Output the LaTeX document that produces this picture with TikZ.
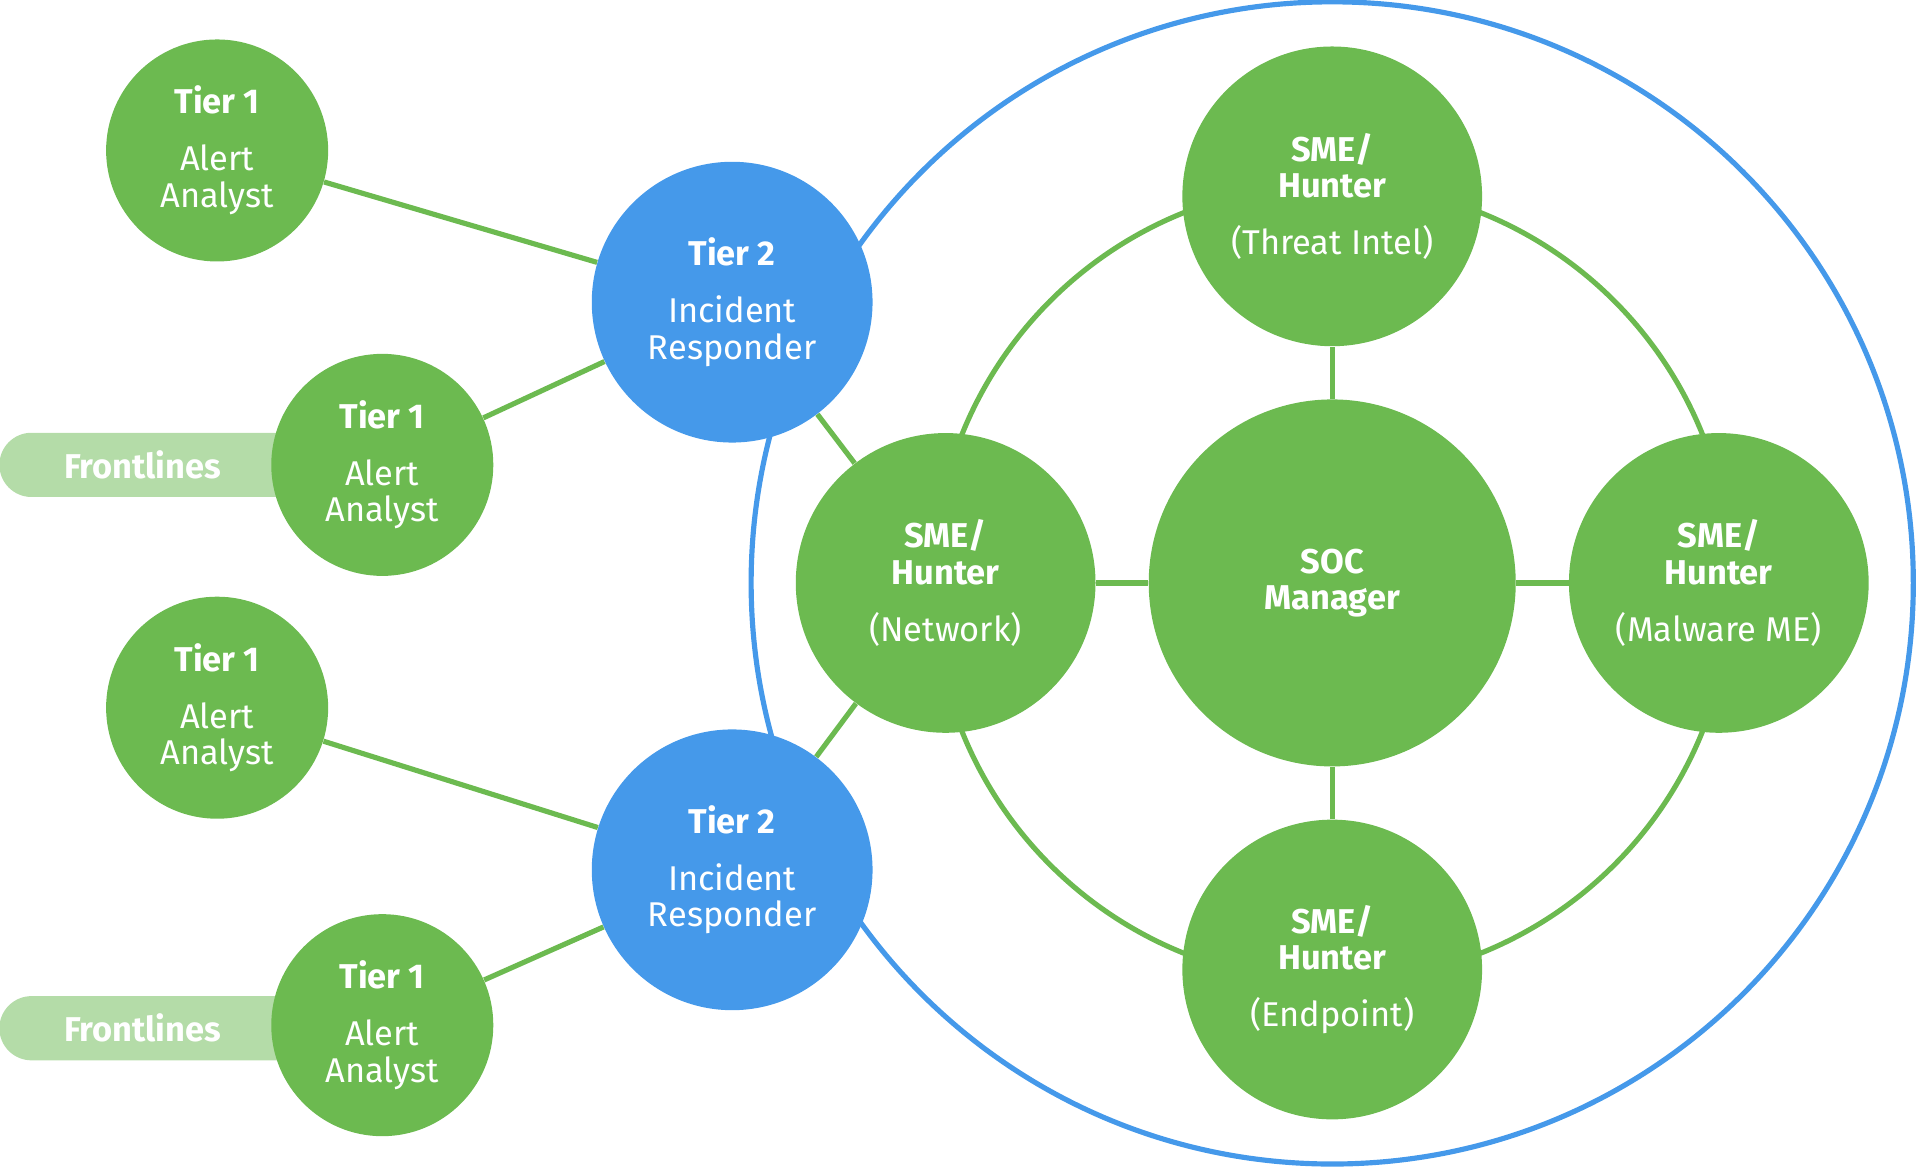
\documentclass[tikz,border=0pt]{standalone}
\usepackage{fontspec}
\setmainfont{Fira Sans}
\usepackage{tikz}
\usetikzlibrary{positioning}

\definecolor{socgreen}{RGB}{108,186,80}
\definecolor{socblue}{RGB}{69,153,234}
\definecolor{pillgreen}{RGB}{180,220,168}

\tikzset{
    role/.style={circle, inner sep=0pt, text=white, align=center, font=\fontsize{16}{17}\selectfont},
    tierone/.style={role, fill=socgreen, minimum size=3.63cm},
    tiertwo/.style={role, fill=socblue, minimum size=4.59cm},
    sme/.style={role, fill=socgreen, minimum size=4.9cm},
    manager/.style={role, fill=socgreen, minimum size=6cm},
    link/.style={draw=socgreen, line width=2.4pt},
    pill/.style={fill=pillgreen, minimum width=6.24cm, minimum height=1.05cm, rounded corners=0.525cm, inner sep=0pt},
    pilltext/.style={text=white, font=\fontsize{16}{17}\selectfont\bfseries}
}

\begin{document}
\begin{tikzpicture}
    \useasboundingbox (-21.78,-9.55) rectangle (9.56,9.53);
    % outer team circle and inner ring
    \draw[socblue, line width=2.4pt] (0,0) circle (9.5cm);
    \draw[link] (0,0) circle (6.52cm);

    % frontline pills
    \node[pill] at (-18.67,1.93) (P1) {};
    \node[pill] at (-18.67,-7.28) (P2) {};
    \node[pilltext] at (-19.45,1.93) (F1) {Frontlines};
    \node[pilltext] at (-19.45,-7.28) (F2) {Frontlines};

    % tier 1
    \node[tierone] at (-18.23,7.07) (T1A) {\textbf{Tier 1}\\[9.5pt]Alert\\Analyst};
    \node[tierone] at (-15.53,1.93) (T1B) {\textbf{Tier 1}\\[9.5pt]Alert\\Analyst};
    \node[tierone] at (-18.23,-2.04) (T1C) {\textbf{Tier 1}\\[9.5pt]Alert\\Analyst};
    \node[tierone] at (-15.53,-7.23) (T1D) {\textbf{Tier 1}\\[9.5pt]Alert\\Analyst};

    % tier 2
    \node[tiertwo] at (-9.81,4.59) (T2A) {\textbf{Tier 2}\\[9.5pt]Incident\\Responder};
    \node[tiertwo] at (-9.81,-4.69) (T2B) {\textbf{Tier 2}\\[9.5pt]Incident\\Responder};

    % SOC core
    \node[manager] at (0,0) (SOC) {\textbf{SOC}\\\textbf{Manager}};
    \node[sme] at (0,6.32) (SMET) {\textbf{SME/}\\\textbf{Hunter}\\[9.5pt](Threat Intel)};
    \node[sme] at (-6.32,0) (SMEN) {\textbf{SME/}\\\textbf{Hunter}\\[9.5pt](Network)};
    \node[sme] at (6.32,0) (SMEM) {\textbf{SME/}\\\textbf{Hunter}\\[9.5pt](Malware ME)};
    \node[sme] at (0,-6.32) (SMEE) {\textbf{SME/}\\\textbf{Hunter}\\[9.5pt](Endpoint)};

    \draw[link] (T1A) -- (T2A);
    \draw[link] (T1B) -- (T2A);
    \draw[link] (T1C) -- (T2B);
    \draw[link] (T1D) -- (T2B);
    \draw[link] (T2A) -- (SMEN);
    \draw[link] (T2B) -- (SMEN);
    \draw[link] (SOC) -- (SMET);
    \draw[link] (SOC) -- (SMEN);
    \draw[link] (SOC) -- (SMEM);
    \draw[link] (SOC) -- (SMEE);
\end{tikzpicture}
\end{document}
